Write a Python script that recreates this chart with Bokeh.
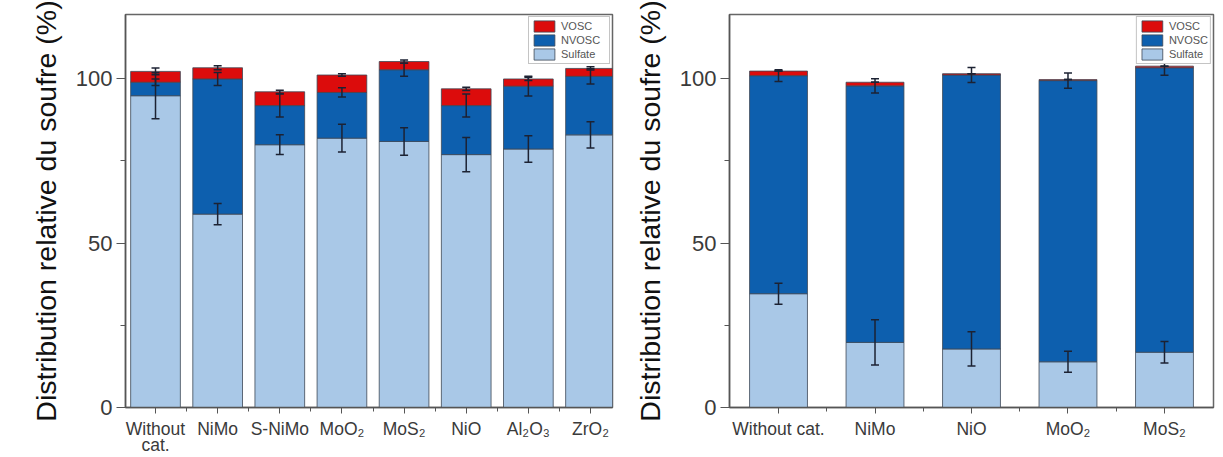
from bokeh.plotting import figure
from bokeh.models import (ColumnDataSource, Whisker, TeeHead, Legend, LegendItem,
                          FixedTicker, Range1d)
from bokeh.layouts import row
from bokeh.embed import file_html
from bokeh.resources import INLINE

FONT = "Liberation Sans"
C_VOSC = "#dc0c0c"
C_NVOSC = "#0d5fae"
C_SULF = "#a9c8e7"
ERR_COLOR = "#1c2233"
TXT = "#3a3a3a"
YLABEL = "Distribution relative du soufre (%)"

# ---- left panel data ----
left_cats = ["Without\ncat.", "NiMo", "S-NiMo", "MoO₂", "MoS₂", "NiO", "Al₂O₃", "ZrO₂"]
left_sulfate = [94.8, 58.8, 79.9, 81.9, 80.9, 76.9, 78.6, 82.9]
left_nvosc = [4.1, 41.1, 11.9, 13.9, 21.8, 14.9, 19.1, 17.8]
left_vosc = [3.3, 3.4, 4.2, 5.3, 2.5, 5.1, 2.2, 2.4]
left_sulfate_err = [7.0, 3.2, 3.0, 4.2, 4.2, 5.2, 4.0, 4.0]
left_nvosc_err = [1.0, 2.0, 3.5, 1.4, 2.0, 3.5, 3.0, 2.3]
left_vosc_err = [1.0, 0.6, 0.5, 0.4, 0.5, 0.5, 0.5, 0.5]

# ---- right panel data ----
right_cats = ["Without cat.", "NiMo", "NiO", "MoO₂", "MoS₂"]
right_sulfate = [34.6, 19.8, 17.8, 13.9, 16.8]
right_nvosc = [66.3, 78.0, 83.3, 85.5, 86.5]
right_vosc = [1.4, 1.1, 0.4, 0.3, 0.5]
right_sulfate_err = [3.2, 6.9, 5.2, 3.2, 3.3]
right_nvosc_err = [1.8, 2.2, 2.3, 2.3, 2.3]
right_vosc_err = [0.0, 0.0, 0.0, 0.0, 0.0]

Y_TICKS = [0, 50, 100]
Y_MINOR = [25, 75]


def make_panel(cats, sulf, nv, vo, s_err, nv_err, vo_err, width, bl, br,
               x_start, x_end, bar_w, leg_label_w):
    n = len(cats)
    xs = list(range(1, n + 1))
    nv_top = [a + b for a, b in zip(sulf, nv)]
    tot = [a + b for a, b in zip(nv_top, vo)]
    src = ColumnDataSource(dict(
        x=xs, Sulfate=sulf, NVOSC=nv, VOSC=vo,
        s_lo=[a - e for a, e in zip(sulf, s_err)], s_hi=[a + e for a, e in zip(sulf, s_err)],
        n_lo=[a - e for a, e in zip(nv_top, nv_err)], n_hi=[a + e for a, e in zip(nv_top, nv_err)],
        v_lo=[a - e for a, e in zip(tot, vo_err)], v_hi=[a + e for a, e in zip(tot, vo_err)],
    ))
    p = figure(width=width, height=457, output_backend="svg", toolbar_location=None,
               x_range=Range1d(x_start, x_end), y_range=Range1d(0, 119.5),
               min_border_left=bl, min_border_right=br, min_border_top=14,
               min_border_bottom=50)
    rs = p.vbar_stack(["Sulfate", "NVOSC", "VOSC"], x="x", width=bar_w,
                      color=[C_SULF, C_NVOSC, C_VOSC], line_color="#3d4756",
                      line_width=0.8, source=src)
    for lo, hi in (("s_lo", "s_hi"), ("n_lo", "n_hi"), ("v_lo", "v_hi")):
        w = Whisker(base="x", lower=lo, upper=hi, source=src, level="overlay",
                    line_color=ERR_COLOR, line_width=1.5,
                    upper_head=TeeHead(size=8, line_color=ERR_COLOR, line_width=1.5),
                    lower_head=TeeHead(size=8, line_color=ERR_COLOR, line_width=1.5))
        p.add_layout(w)

    legend = Legend(items=[LegendItem(label="VOSC", renderers=[rs[2]]),
                           LegendItem(label="NVOSC", renderers=[rs[1]]),
                           LegendItem(label="Sulfate", renderers=[rs[0]])],
                    location="top_right", margin=2, padding=2, spacing=0,
                    glyph_width=26, glyph_height=14, label_height=14,
                    label_width=leg_label_w, label_standoff=4,
                    label_text_font=FONT, label_text_font_size="11px",
                    label_text_color="#555555", border_line_color="#8a8a8a",
                    border_line_width=1, background_fill_color="white",
                    background_fill_alpha=1)
    p.add_layout(legend)

    p.xgrid.visible = False
    p.ygrid.visible = False
    p.outline_line_color = "#666666"
    p.outline_line_width = 1.5

    xa = p.xaxis[0]
    xa.ticker = FixedTicker(ticks=xs, minor_ticks=[x + 0.5 for x in xs[:-1]])
    xa.major_label_overrides = {x: c for x, c in zip(xs, cats)}
    xa.major_label_text_font = FONT
    xa.major_label_text_font_size = "17.5px"
    xa.major_label_text_color = TXT
    xa.major_label_text_line_height = 0.8
    xa.major_label_standoff = 5
    xa.major_tick_in = 0
    xa.major_tick_out = 6
    xa.minor_tick_in = 0
    xa.minor_tick_out = 4
    xa.axis_line_color = "#555555"
    xa.axis_line_width = 1.5
    xa.major_tick_line_color = "#555555"
    xa.minor_tick_line_color = "#555555"

    ya = p.yaxis[0]
    ya.ticker = FixedTicker(ticks=Y_TICKS, minor_ticks=Y_MINOR)
    ya.major_label_text_font = FONT
    ya.major_label_text_font_size = "22px"
    ya.major_label_text_color = TXT
    ya.major_label_standoff = 4
    ya.major_tick_in = 0
    ya.major_tick_out = 9
    ya.minor_tick_in = 0
    ya.minor_tick_out = 5
    ya.axis_line_color = "#555555"
    ya.axis_line_width = 1.5
    ya.major_tick_line_color = "#555555"
    ya.minor_tick_line_color = "#555555"
    ya.axis_label = YLABEL
    ya.axis_label_text_font = FONT
    ya.axis_label_text_font_size = "28.5px"
    ya.axis_label_text_font_style = "normal"
    ya.axis_label_text_color = "#111111"
    ya.axis_label_standoff = 11
    return p


p1 = make_panel(left_cats, left_sulfate, left_nvosc, left_vosc, left_sulfate_err,
                left_nvosc_err, left_vosc_err, 620, 125, 8, 0.517, 8.354, 0.8, 46)
p2 = make_panel(right_cats, right_sulfate, right_nvosc, right_vosc, right_sulfate_err,
                right_nvosc_err, right_vosc_err, 601, 109, 8, 0.492, 5.508, 0.6, 38)

layout = row(p1, p2)
open("out.html", "w").write(file_html(layout, INLINE))
